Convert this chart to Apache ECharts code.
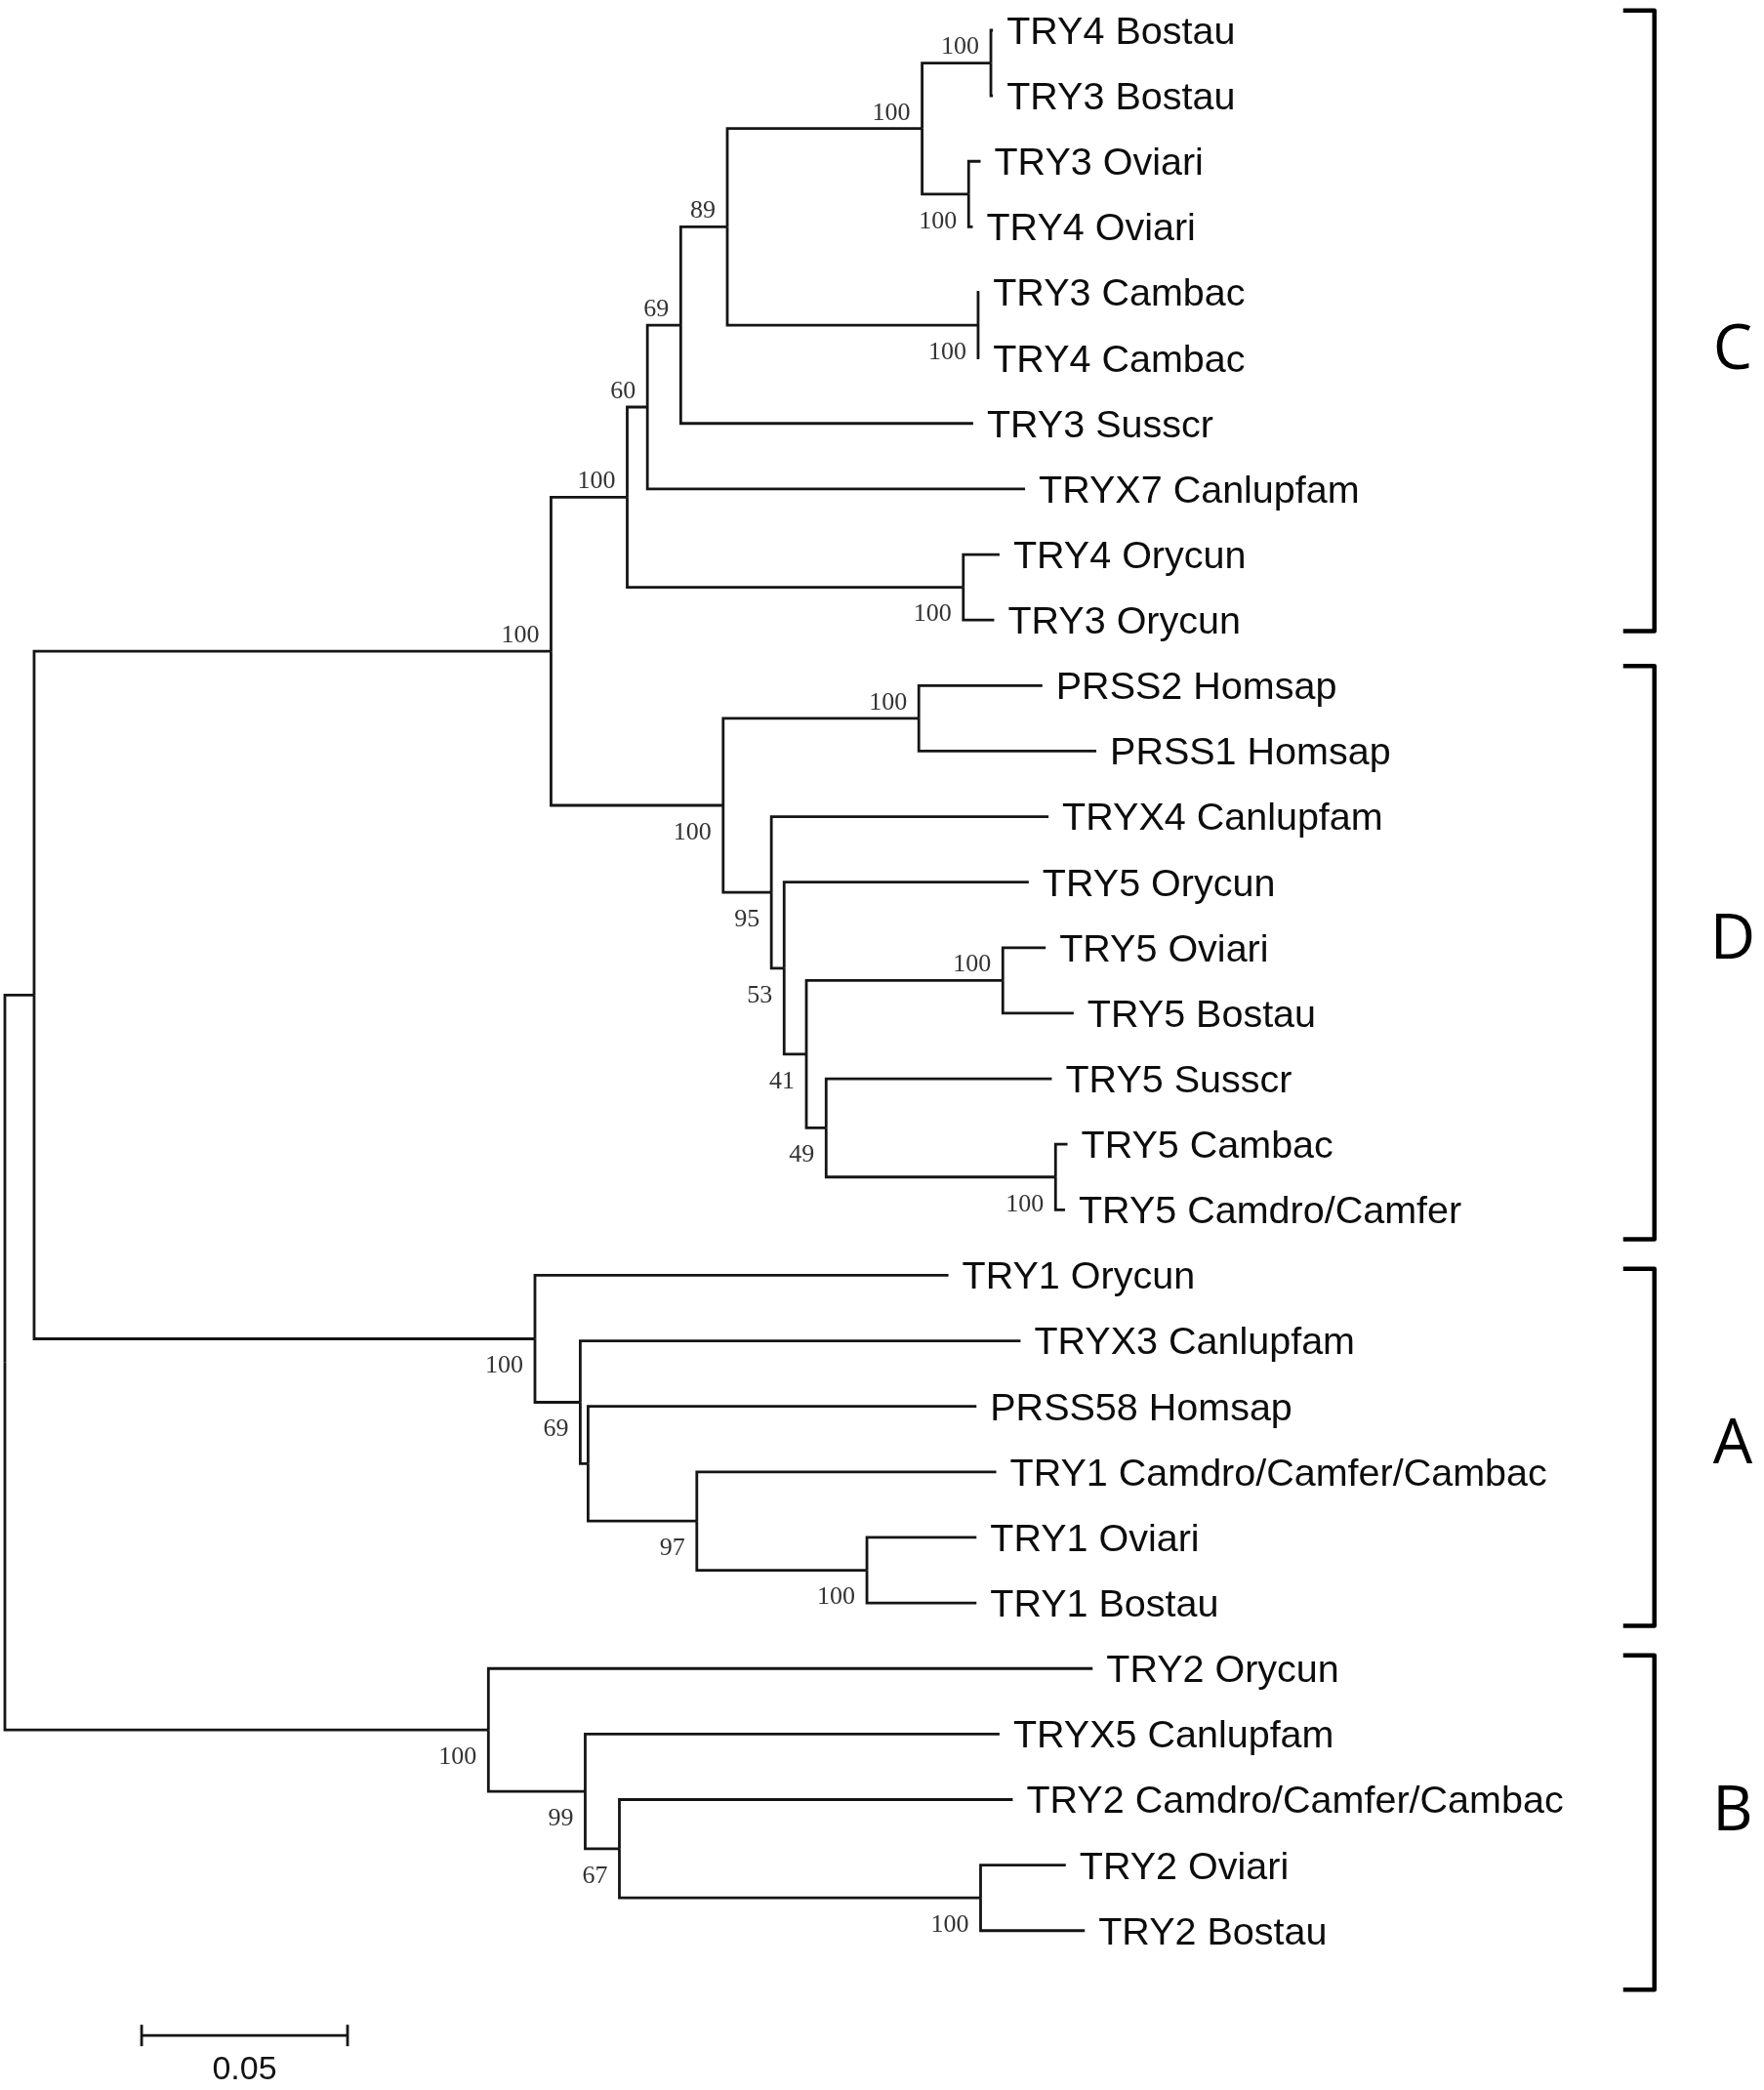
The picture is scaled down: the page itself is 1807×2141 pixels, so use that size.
<!DOCTYPE html>
<html>
<head>
<meta charset="utf-8">
<script src="https://cdn.jsdelivr.net/npm/echarts@6/dist/echarts.min.js"></script>
<style>
  html, body { margin: 0; padding: 0; background: #fff; }
  #chart { width: 1807px; height: 2141px; }
</style>
</head>
<body>
<div id="chart"></div>
<script>
// tips, top to bottom
const leafNames = [
  'TRY4 Bostau', 'TRY3 Bostau', 'TRY3 Oviari', 'TRY4 Oviari', 'TRY3 Cambac', 'TRY4 Cambac',
  'TRY3 Susscr', 'TRYX7 Canlupfam', 'TRY4 Orycun', 'TRY3 Orycun',
  'PRSS2 Homsap', 'PRSS1 Homsap', 'TRYX4 Canlupfam', 'TRY5 Orycun', 'TRY5 Oviari', 'TRY5 Bostau',
  'TRY5 Susscr', 'TRY5 Cambac', 'TRY5 Camdro/Camfer',
  'TRY1 Orycun', 'TRYX3 Canlupfam', 'PRSS58 Homsap', 'TRY1 Camdro/Camfer/Cambac', 'TRY1 Oviari', 'TRY1 Bostau',
  'TRY2 Orycun', 'TRYX5 Canlupfam', 'TRY2 Camdro/Camfer/Cambac', 'TRY2 Oviari', 'TRY2 Bostau'
];
// internal node each tip hangs from
const leafParent = [8, 8, 9, 9, 10, 10, 5, 4, 11, 11, 13, 13, 14, 15, 17, 17, 18, 19, 19, 20, 21, 22, 23, 24, 24, 25, 26, 27, 28, 28];
// branch lengths of the tips
const leafBranch = [
  0.0005, 0.0005, 0.0029, 0.0010, 0.0003, 0.0003, 0.0710, 0.0917, 0.0088, 0.0075,
  0.0300, 0.0431, 0.0673, 0.0594, 0.0104, 0.0172, 0.0548, 0.0029, 0.0023,
  0.1004, 0.1069, 0.0943, 0.0727, 0.0266, 0.0266,
  0.1467, 0.1006, 0.0955, 0.0207, 0.0253
];

// internal nodes, 0 = root
const nodeParent = [-1, 0, 1, 2, 3, 4, 5, 6, 7, 7, 6, 3, 2, 12, 12, 14, 15, 16, 16, 18, 1, 20, 21, 22, 23, 0, 25, 26, 27];
const nodeBranch = [
  0, 0.0071, 0.1255, 0.0185, 0.0049, 0.0081, 0.0113, 0.0473, 0.0167, 0.0113,
  0.0609, 0.0816, 0.0418, 0.0475, 0.0117, 0.0031, 0.0054, 0.0477, 0.0048, 0.0557,
  0.1216, 0.0110, 0.0019, 0.0264, 0.0413, 0.1174, 0.0235, 0.0083, 0.0877
];
// bootstrap values (null = not shown)
const nodeSupport = [
  null, null, 100, 100, 60, 69, 89, 100, 100, 100,
  100, 100, 100, 100, 95, 53, 41, 100, 49, 100,
  100, 69, null, 97, 100, 100, 99, 67, 100
];

// groups marked on the right (rows in tip units)
const cladeNames = ['C', 'D', 'A', 'B'];
const cladeTop = [-0.3, 9.7, 18.9, 24.8];
const cladeBottom = [9.17, 18.45, 24.35, 29.9];
const cladeLabelRow = [4.9, 13.9, 21.6, 27.2];

const scaleBarLength = 0.05;
const scaleBarLabel = '0.05';

// ---- tree layout: depth from branch lengths, row from tip order ----
const nodeDepth = [];
for (let i = 0; i < nodeParent.length; i++) {
  nodeDepth[i] = nodeParent[i] < 0 ? 0 : nodeDepth[nodeParent[i]] + nodeBranch[i];
}
const leafDepth = leafNames.map((n, i) => nodeDepth[leafParent[i]] + leafBranch[i]);

const kids = nodeParent.map(() => []);
leafParent.forEach((p, i) => kids[p].push({ leaf: true, id: i }));
nodeParent.forEach((p, i) => { if (p >= 0) kids[p].push({ leaf: false, id: i }); });

const nodeRow = [];
function rowOf(k) {
  if (k.leaf) return k.id;
  if (nodeRow[k.id] === undefined) {
    const rows = kids[k.id].map(rowOf);
    nodeRow[k.id] = (Math.min(...rows) + Math.max(...rows)) / 2;
  }
  return nodeRow[k.id];
}
rowOf({ leaf: false, id: 0 });

// [parentDepth, parentRow, row, depth]
const branches = [];
leafNames.forEach((n, i) => {
  const p = leafParent[i];
  branches.push([nodeDepth[p], nodeRow[p], i, leafDepth[i]]);
});
nodeParent.forEach((p, i) => {
  if (p >= 0) branches.push([nodeDepth[p], nodeRow[p], nodeRow[i], nodeDepth[i]]);
});

const tips = leafNames.map((n, i) => [leafDepth[i], i, n]);

const supports = [];
nodeSupport.forEach((s, i) => {
  if (s === null) return;
  const above = nodeRow[i] < nodeRow[nodeParent[i]] ? 1 : 0;
  supports.push([nodeDepth[i], nodeRow[i], String(s), above]);
});

const clades = cladeNames.map((c, i) => [cladeTop[i], cladeBottom[i], cladeLabelRow[i], c]);

const LINE = '#151515';
const bracketX = 0.4005;
const letterX = 0.4195;

const chart = echarts.init(document.getElementById('chart'));

chart.setOption({
  backgroundColor: '#ffffff',
  animation: false,
  grid: { left: 5, right: 30, top: 31, bottom: 29 },
  xAxis: { type: 'value', min: 0, max: 0.42, show: false },
  yAxis: { type: 'value', min: 0, max: 31, inverse: true, show: false },
  series: [
    {
      type: 'custom',
      name: 'branches',
      data: branches,
      renderItem: function (params, api) {
        const a = api.coord([api.value(0), api.value(1)]);
        const b = api.coord([api.value(0), api.value(2)]);
        const c = api.coord([api.value(3), api.value(2)]);
        return {
          type: 'polyline',
          shape: { points: [a, b, c] },
          style: { stroke: LINE, lineWidth: 2.8, fill: null }
        };
      }
    },
    {
      type: 'custom',
      name: 'tips',
      data: tips,
      renderItem: function (params, api) {
        const p = api.coord([api.value(0), api.value(1)]);
        return {
          type: 'text',
          x: p[0] + 14,
          y: p[1] + 3,
          style: {
            text: tips[params.dataIndex][2],
            fill: '#0d0d0d',
            font: '39.5px "Liberation Sans", Arial, sans-serif',
            align: 'left',
            verticalAlign: 'middle'
          }
        };
      }
    },
    {
      type: 'custom',
      name: 'support',
      data: supports,
      renderItem: function (params, api) {
        const d = supports[params.dataIndex];
        const p = api.coord([d[0], d[1]]);
        return {
          type: 'text',
          x: p[0] - 12,
          y: d[3] ? p[1] - 16 : p[1] + 28,
          style: {
            text: d[2],
            fill: '#333',
            font: '26px "Liberation Serif", "DejaVu Serif", serif',
            align: 'right',
            verticalAlign: 'middle'
          }
        };
      }
    },
    {
      type: 'custom',
      name: 'clades',
      data: clades,
      renderItem: function (params, api) {
        const d = clades[params.dataIndex];
        const t = api.coord([bracketX, d[0]]);
        const b = api.coord([bracketX, d[1]]);
        const l = api.coord([letterX, d[2]]);
        const serif = 32;
        return {
          type: 'group',
          children: [
            {
              type: 'polyline',
              shape: { points: [[t[0] - serif, t[1]], [t[0], t[1]], [b[0], b[1]], [b[0] - serif, b[1]]] },
              style: { stroke: '#000', lineWidth: 4.5, fill: null, lineJoin: 'round' }
            },
            {
              type: 'text',
              x: l[0],
              y: l[1],
              style: {
                text: d[3],
                fill: '#000',
                font: '64px "Open Sans", "Noto Sans", sans-serif',
                align: 'center',
                verticalAlign: 'middle'
              }
            }
          ]
        };
      }
    },
    {
      type: 'custom',
      name: 'scale',
      data: [[0.0332, 30.6]],
      renderItem: function (params, api) {
        const a = api.coord([api.value(0), api.value(1)]);
        const b = api.coord([api.value(0) + scaleBarLength, api.value(1)]);
        const st = { stroke: LINE, lineWidth: 2.8 };
        return {
          type: 'group',
          children: [
            { type: 'line', shape: { x1: a[0], y1: a[1], x2: b[0], y2: b[1] }, style: st },
            { type: 'line', shape: { x1: a[0], y1: a[1] - 11, x2: a[0], y2: a[1] + 11 }, style: st },
            { type: 'line', shape: { x1: b[0], y1: b[1] - 11, x2: b[0], y2: b[1] + 11 }, style: st },
            {
              type: 'text',
              x: (a[0] + b[0]) / 2,
              y: a[1] + 35,
              style: {
                text: scaleBarLabel,
                fill: '#111',
                font: '34px "Liberation Sans", Arial, sans-serif',
                align: 'center',
                verticalAlign: 'middle'
              }
            }
          ]
        };
      }
    }
  ]
});
</script>
</body>
</html>
